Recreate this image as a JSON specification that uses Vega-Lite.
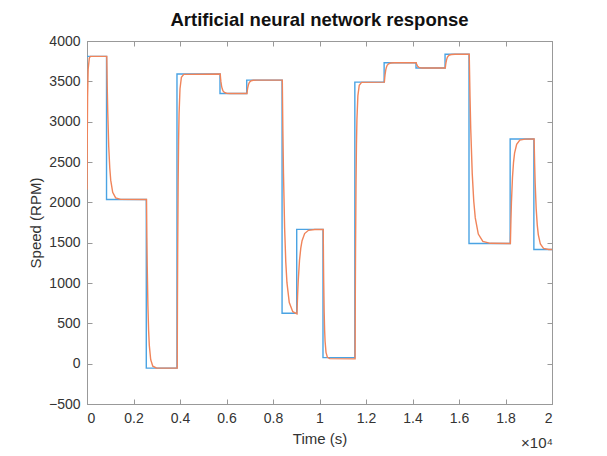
{
  "$schema": "https://vega.github.io/schema/vega-lite/v6.json",
  "width": 465,
  "height": 363,
  "autosize": {"type": "none"},
  "padding": {"left": 87, "top": 41, "right": 55, "bottom": 52},
  "background": "white",
  "title": {"text": "Artificial neural network response", "fontSize": 18.5, "fontWeight": "bold", "font": "Liberation Sans", "color": "#111111", "offset": 5, "anchor": "middle"},
  "config": {
    "view": {"stroke": "#999999", "strokeWidth": 1},
    "axis": {"grid": false, "labelFont": "Liberation Sans", "titleFont": "Liberation Sans", "labelFontSize": 14, "titleFontSize": 15, "titleFontWeight": "normal", "labelColor": "#333333", "titleColor": "#333333", "domainColor": "#999999", "tickColor": "#999999", "tickSize": -5, "labelPadding": 12}
  },
  "datasets": {
    "ref": [
      {"t": 0, "speed": 3810}, {"t": 840, "speed": 2035}, {"t": 2550, "speed": -55}, {"t": 3870, "speed": 3590},
      {"t": 5720, "speed": 3350}, {"t": 6870, "speed": 3515}, {"t": 8390, "speed": 625}, {"t": 9020, "speed": 1665},
      {"t": 10150, "speed": 75}, {"t": 11520, "speed": 3490}, {"t": 12780, "speed": 3730}, {"t": 14150, "speed": 3665},
      {"t": 15400, "speed": 3835}, {"t": 16430, "speed": 1490}, {"t": 18200, "speed": 2785}, {"t": 19220, "speed": 1415},
      {"t": 20000, "speed": 1415}
    ],
    "ann": [
      {"t": 0, "speed": 2160}, {"t": 10, "speed": 2700}, {"t": 25, "speed": 3300}, {"t": 50, "speed": 3650}, {"t": 100, "speed": 3790}, {"t": 150, "speed": 3810},
      {"t": 850, "speed": 3810}, {"t": 871, "speed": 3418}, {"t": 893, "speed": 3112}, {"t": 935, "speed": 2688}, {"t": 978, "speed": 2431}, {"t": 1020, "speed": 2275}, {"t": 1105, "speed": 2124}, {"t": 1233, "speed": 2055}, {"t": 1445, "speed": 2037},
      {"t": 2560, "speed": 2035}, {"t": 2575, "speed": 1565}, {"t": 2590, "speed": 1214}, {"t": 2620, "speed": 714}, {"t": 2650, "speed": 411}, {"t": 2680, "speed": 227}, {"t": 2740, "speed": 49}, {"t": 2830, "speed": -32}, {"t": 2980, "speed": -53},
      {"t": 3880, "speed": -55}, {"t": 3890, "speed": 765}, {"t": 3900, "speed": 1377}, {"t": 3920, "speed": 2249}, {"t": 3940, "speed": 2777}, {"t": 3960, "speed": 3098}, {"t": 4000, "speed": 3408}, {"t": 4060, "speed": 3550}, {"t": 4160, "speed": 3586},
      {"t": 5730, "speed": 3590}, {"t": 5745, "speed": 3537}, {"t": 5760, "speed": 3496}, {"t": 5790, "speed": 3438}, {"t": 5820, "speed": 3404}, {"t": 5850, "speed": 3382}, {"t": 5910, "speed": 3362}, {"t": 6000, "speed": 3353}, {"t": 6150, "speed": 3350},
      {"t": 6880, "speed": 3350}, {"t": 6895, "speed": 3386}, {"t": 6910, "speed": 3415}, {"t": 6940, "speed": 3454}, {"t": 6970, "speed": 3478}, {"t": 7000, "speed": 3493}, {"t": 7060, "speed": 3507}, {"t": 7150, "speed": 3513}, {"t": 7300, "speed": 3515},
      {"t": 8400, "speed": 3515}, {"t": 8425, "speed": 2873}, {"t": 8450, "speed": 2374}, {"t": 8500, "speed": 1680}, {"t": 8550, "speed": 1259}, {"t": 8600, "speed": 1004}, {"t": 8700, "speed": 757}, {"t": 8850, "speed": 644}, {"t": 9030, "speed": 618},
      {"t": 9058, "speed": 849}, {"t": 9085, "speed": 1029}, {"t": 9140, "speed": 1280}, {"t": 9195, "speed": 1432}, {"t": 9250, "speed": 1524}, {"t": 9360, "speed": 1613}, {"t": 9525, "speed": 1653}, {"t": 9800, "speed": 1664},
      {"t": 10160, "speed": 1665}, {"t": 10170, "speed": 1304}, {"t": 10180, "speed": 1034}, {"t": 10200, "speed": 651}, {"t": 10220, "speed": 418}, {"t": 10240, "speed": 277}, {"t": 10280, "speed": 140}, {"t": 10340, "speed": 78}, {"t": 10440, "speed": 62},
      {"t": 11530, "speed": 60}, {"t": 11540, "speed": 832}, {"t": 11550, "speed": 1408}, {"t": 11570, "speed": 2228}, {"t": 11590, "speed": 2725}, {"t": 11610, "speed": 3027}, {"t": 11650, "speed": 3319}, {"t": 11710, "speed": 3452}, {"t": 11810, "speed": 3487},
      {"t": 12790, "speed": 3490}, {"t": 12805, "speed": 3543}, {"t": 12820, "speed": 3584}, {"t": 12850, "speed": 3642}, {"t": 12880, "speed": 3676}, {"t": 12910, "speed": 3698}, {"t": 12970, "speed": 3718}, {"t": 13060, "speed": 3727}, {"t": 13210, "speed": 3730},
      {"t": 14160, "speed": 3730}, {"t": 14175, "speed": 3716}, {"t": 14190, "speed": 3704}, {"t": 14220, "speed": 3689}, {"t": 14250, "speed": 3679}, {"t": 14280, "speed": 3674}, {"t": 14340, "speed": 3668}, {"t": 14430, "speed": 3666}, {"t": 14580, "speed": 3665},
      {"t": 15410, "speed": 3665}, {"t": 15425, "speed": 3703}, {"t": 15440, "speed": 3732}, {"t": 15470, "speed": 3772}, {"t": 15500, "speed": 3797}, {"t": 15530, "speed": 3812}, {"t": 15590, "speed": 3827}, {"t": 15680, "speed": 3833}, {"t": 15830, "speed": 3835},
      {"t": 16440, "speed": 3835}, {"t": 16473, "speed": 3317}, {"t": 16505, "speed": 2913}, {"t": 16570, "speed": 2353}, {"t": 16635, "speed": 2013}, {"t": 16700, "speed": 1807}, {"t": 16830, "speed": 1607}, {"t": 17025, "speed": 1516}, {"t": 17350, "speed": 1492},
      {"t": 18210, "speed": 1490}, {"t": 18233, "speed": 1776}, {"t": 18255, "speed": 1999}, {"t": 18300, "speed": 2308}, {"t": 18345, "speed": 2496}, {"t": 18390, "speed": 2610}, {"t": 18480, "speed": 2720}, {"t": 18615, "speed": 2771}, {"t": 18840, "speed": 2784},
      {"t": 19230, "speed": 2785}, {"t": 19253, "speed": 2482}, {"t": 19275, "speed": 2247}, {"t": 19320, "speed": 1919}, {"t": 19365, "speed": 1721}, {"t": 19410, "speed": 1600}, {"t": 19500, "speed": 1483}, {"t": 19635, "speed": 1430}, {"t": 19860, "speed": 1416}, {"t": 20000, "speed": 1415}
    ]
  },
  "layer": [
    {
      "data": {"name": "ref"},
      "mark": {"type": "line", "interpolate": "step-after", "color": "#4aa3e3", "strokeWidth": 1.4, "clip": true},
      "encoding": {
        "x": {"field": "t", "type": "quantitative", "scale": {"domain": [0, 20000], "nice": false},
              "axis": {"orient": "bottom", "title": "Time (s)", "values": [0, 2000, 4000, 6000, 8000, 10000, 12000, 14000, 16000, 18000, 20000], "labelExpr": "format(datum.value / 10000, '~g')", "titlePadding": 6}},
        "y": {"field": "speed", "type": "quantitative", "scale": {"domain": [-500, 4000], "nice": false, "zero": false},
              "axis": {"orient": "left", "title": "Speed (RPM)", "values": [-500, 0, 500, 1000, 1500, 2000, 2500, 3000, 3500, 4000], "format": "d", "titlePadding": 5}}
      }
    },
    {
      "data": {"name": "ann"},
      "mark": {"type": "line", "color": "#f0845a", "strokeWidth": 1.4, "clip": true},
      "encoding": {
        "x": {"field": "t", "type": "quantitative", "scale": {"domain": [0, 20000], "nice": false},
              "axis": {"orient": "top", "title": null, "labels": false, "values": [0, 2000, 4000, 6000, 8000, 10000, 12000, 14000, 16000, 18000, 20000]}},
        "y": {"field": "speed", "type": "quantitative", "scale": {"domain": [-500, 4000], "nice": false, "zero": false},
              "axis": {"orient": "right", "title": null, "labels": false, "values": [-500, 0, 500, 1000, 1500, 2000, 2500, 3000, 3500, 4000]}}
      }
    },
    {
      "data": {"values": [{}]},
      "mark": {"type": "text", "text": "×10⁴", "align": "right", "baseline": "middle", "dy": 39, "dx": 1, "fontSize": 15, "font": "Liberation Sans", "color": "#333333"},
      "encoding": {
        "x": {"datum": 20000, "type": "quantitative", "axis": null},
        "y": {"datum": -500, "type": "quantitative", "axis": null}
      }
    }
  ],
  "resolve": {"axis": {"x": "independent", "y": "independent"}}
}
